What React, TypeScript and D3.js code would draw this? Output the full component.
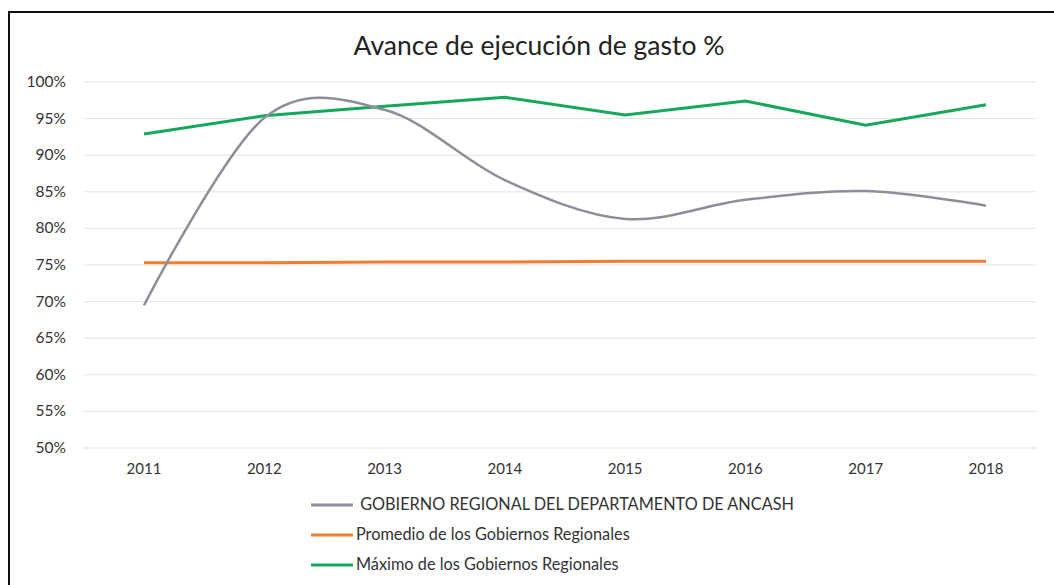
import { useEffect, useRef } from 'react'
import * as d3 from 'd3'

const years = ['2011', '2012', '2013', '2014', '2015', '2016', '2017', '2018']
const ancash = [69.5, 95.1, 96.2, 86.6, 81.3, 83.9, 85.1, 83.1]
const promedio = [75.3, 75.3, 75.4, 75.4, 75.5, 75.5, 75.5, 75.5]
const maximo = [92.9, 95.4, 96.7, 97.9, 95.5, 97.4, 94.1, 96.9]
const yTicks = [50, 55, 60, 65, 70, 75, 80, 85, 90, 95, 100]

const seriesNames = [
  ' GOBIERNO REGIONAL DEL DEPARTAMENTO DE ANCASH',
  'Promedio de los Gobiernos Regionales',
  'Máximo de los Gobiernos Regionales'
]
const seriesColors = ['#8e8e98', '#ed7d31', '#16a85a']

const FONT = 'Lato, "Noto Sans", sans-serif'

const App = () => {
  const ref = useRef<SVGSVGElement>(null)

  useEffect(() => {
    const svg = d3.select(ref.current)
    svg.selectAll('*').remove()

    const x = d3.scalePoint<string>().domain(years).range([144, 986])
    const y = d3.scaleLinear().domain([50, 100]).range([448, 82])

    // frame
    svg.append('rect').attr('width', 1054).attr('height', 585).attr('fill', '#fff')
    svg.append('line').attr('x1', 8).attr('x2', 1054).attr('y1', 12).attr('y2', 12)
      .attr('stroke', '#111').attr('stroke-width', 2)
    svg.append('line').attr('x1', 9).attr('x2', 9).attr('y1', 11).attr('y2', 585)
      .attr('stroke', '#111').attr('stroke-width', 2)

    svg.append('text')
      .attr('x', 539).attr('y', 55)
      .attr('text-anchor', 'middle')
      .attr('font-family', FONT)
      .attr('font-size', 26.5)
      .attr('fill', '#222')
      .text('Avance de ejecución de gasto %')

    // grid + y labels
    const grid = svg.append('g')
    grid.selectAll('line').data(yTicks).enter().append('line')
      .attr('x1', 84).attr('x2', 1036)
      .attr('y1', (d) => y(d)).attr('y2', (d) => y(d))
      .attr('stroke', '#e3e3e3').attr('stroke-width', 1)
    grid.selectAll('text').data(yTicks).enter().append('text')
      .attr('x', 66).attr('y', (d) => y(d) + 5)
      .attr('text-anchor', 'end')
      .attr('font-family', FONT).attr('font-size', 15.5).attr('fill', '#333')
      .text((d) => d + '%')

    svg.append('g').selectAll('text').data(years).enter().append('text')
      .attr('x', (d) => x(d) as number).attr('y', 474)
      .attr('text-anchor', 'middle')
      .attr('font-family', FONT).attr('font-size', 15).attr('fill', '#333')
      .text((d) => d)

    const lineStraight = d3.line<number>()
      .x((_, i) => x(years[i]) as number)
      .y((d) => y(d))
    const lineSmooth = d3.line<number>()
      .x((_, i) => x(years[i]) as number)
      .y((d) => y(d))
      .curve(d3.curveCardinal.tension(0))

    svg.append('path').datum(promedio).attr('d', lineStraight)
      .attr('fill', 'none').attr('stroke', seriesColors[1]).attr('stroke-width', 3)
    svg.append('path').datum(maximo).attr('d', lineStraight)
      .attr('fill', 'none').attr('stroke', seriesColors[2]).attr('stroke-width', 3)
    svg.append('path').datum(ancash).attr('d', lineSmooth)
      .attr('fill', 'none').attr('stroke', seriesColors[0]).attr('stroke-width', 2.5)

    // legend
    const lg = svg.append('g')
    seriesNames.forEach((name, i) => {
      const ly = 505 + i * 30
      lg.append('line').attr('x1', 311).attr('x2', 353).attr('y1', ly).attr('y2', ly)
        .attr('stroke', seriesColors[i]).attr('stroke-width', 3)
      lg.append('text').attr('x', 356).attr('y', ly + 5)
        .attr('font-family', FONT).attr('font-size', 16.3).attr('fill', '#333')
        .attr('xml:space', 'preserve')
        .text(name)
    })
  }, [])

  return (
    <svg
      ref={ref}
      width={1054}
      height={585}
      style={{ position: 'absolute', left: 0, top: 0, display: 'block' }}
    />
  )
}

export default App
